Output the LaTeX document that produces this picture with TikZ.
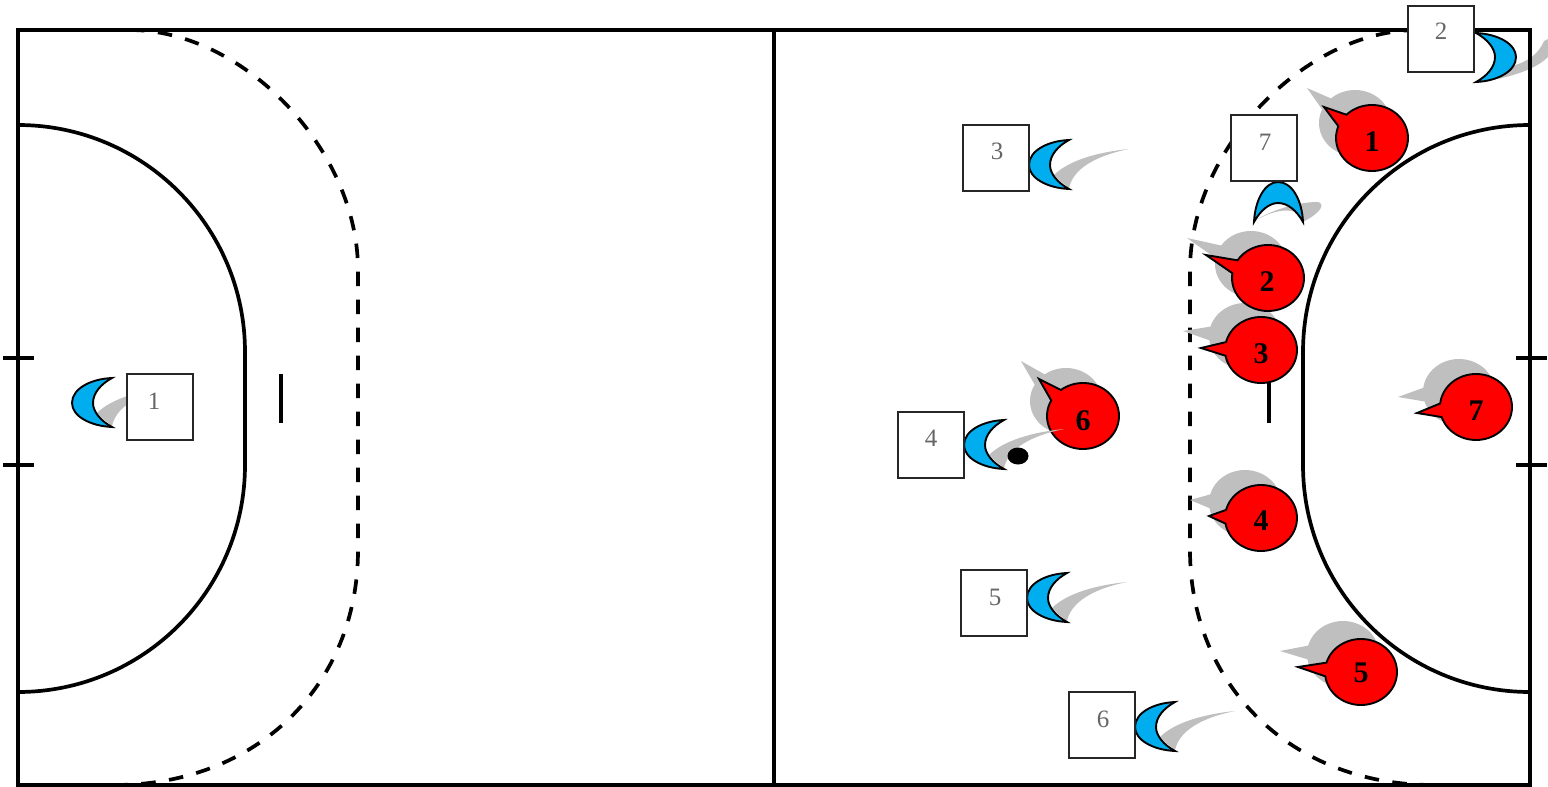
\documentclass[tikz,border=0pt]{standalone}
\usepackage{fontspec}
\setmainfont{Liberation Serif}
\definecolor{tokred}{HTML}{FF0000}
\definecolor{tokblue}{HTML}{00AEEF}
\definecolor{shadegrey}{HTML}{BFBFBF}
\definecolor{digitgrey}{HTML}{666666}
\tikzset{
  courtline/.style={draw=black,line width=4pt},
  goalline/.style={draw=black,line width=3.7pt},
  freeline/.style={draw=black,line width=3.7pt,dash pattern=on 14.5pt off 13.5pt},
  markline/.style={draw=black,line width=3.4pt},
  boxst/.style={draw=black!85,fill=white,line width=2pt,minimum size=66pt,inner sep=0pt},
  digitst/.style={text=digitgrey,inner sep=0pt,font=\fontsize{25}{25}\selectfont},
  redlabel/.style={text=black,inner sep=0pt,font=\bfseries\fontsize{30}{30}\selectfont},
  crescentst/.style={draw=black,fill=tokblue,line width=1.9pt,line join=miter},
  redbody/.style={draw=black,fill=tokred,line width=1.9pt,line join=miter},
}
\newcommand{\tokshape}[6]{% options, cx, cy, tipx, tipy
  \pgfmathsetmacro{\tokang}{atan2(#5-#3,#4-#2)}
  \path[#1] plot[domain=\tokang+12:\tokang+348,samples=70] ({#2+36*cos(\x)},{#3+33*sin(\x)}) -- (#4,#5) -- cycle;
}
\newcommand{\swoosh}[3]{% x, y, rotation
  \begin{scope}[shift={(#1,#2)},rotate=#3]
    \fill[shadegrey] (25,10) .. controls (40,-5) and (70,-13) .. (100,-16)
      .. controls (75,-11) and (45,0) .. (40,23) -- (30,15) -- cycle;
  \end{scope}
}
\newcommand{\crescent}[3]{% x, y, rotation
  \begin{scope}[shift={(#1,#2)},rotate=#3]
    \path[crescentst] (40,-25) .. controls (18,-24) and (0,-14) .. (0,0)
      .. controls (0,13) and (18,23) .. (40,24)
      .. controls (29,18) and (21,9) .. (21,0)
      .. controls (21,-10) and (29,-19) .. (40,-25) -- cycle;
  \end{scope}
}
\begin{document}
\begin{tikzpicture}[x=1pt,y=-1pt]
\useasboundingbox (0,0) rectangle (1548,787);
\clip (0,0) rectangle (1548,787);
% swoosh of player 2 lies under the court lines
\fill[shadegrey] (1512,66) .. controls (1527,62) and (1538,55) .. (1544,41) -- (1548,39) -- (1548,57)
  .. controls (1538,67) and (1520,74) .. (1498,79) -- cycle;
% court
\path[courtline] (18,30) rectangle (1530,785);
\path[courtline] (774,30) -- (774,785);
% goal areas
\path[goalline] (18,125) .. controls (143.4,125) and (245,226.6) .. (245,352) -- (245,465)
  .. controls (245,590.4) and (143.4,692) .. (18,692);
\path[goalline] (1530,125) .. controls (1404.6,125) and (1303,226.6) .. (1303,352) -- (1303,465)
  .. controls (1303,590.4) and (1404.6,692) .. (1530,692);
% free-throw lines
\path[freeline] (130,30) .. controls (244,30) and (358,150) .. (358,270) -- (358,550)
  .. controls (358,686) and (256,785) .. (115,785);
\path[freeline] (1418,30) .. controls (1304,30) and (1190,150) .. (1190,270) -- (1190,550)
  .. controls (1190,686) and (1292,785) .. (1433,785);
% marks
\path[markline] (3,358) -- (34,358);
\path[markline] (3,465) -- (34,465);
\path[markline] (1516,358) -- (1547,358);
\path[markline] (1516,465) -- (1547,465);
\path[markline] (281,374) -- (281,423);
\path[markline] (1269,375) -- (1269,423);
% shadows
\tokshape{fill=shadegrey}{1355}{123}{1307}{88}{}
\tokshape{fill=shadegrey}{1251}{264}{1187}{238}{}
\tokshape{fill=shadegrey}{1245}{336}{1183}{331}{}
\tokshape{fill=shadegrey}{1245}{503}{1190}{500}{}
\tokshape{fill=shadegrey}{1343}{654}{1280}{651}{}
\tokshape{fill=shadegrey}{1066}{401}{1021}{361}{}
\tokshape{fill=shadegrey}{1459}{392}{1398}{397}{}
% red players
\tokshape{redbody}{1372}{138}{1324}{107}{}
\tokshape{redbody}{1268}{278}{1206}{255}{}
\tokshape{redbody}{1261}{350}{1201}{348}{}
\tokshape{redbody}{1261}{518}{1209}{516}{}
\tokshape{redbody}{1361}{672}{1298}{667}{}
\tokshape{redbody}{1083}{416}{1039}{379}{}
\tokshape{redbody}{1476}{407}{1417}{413}{}
\node[redlabel] (r1) at (1372,142) {1};
\node[redlabel] (r2) at (1267,282) {2};
\node[redlabel] (r3) at (1261,354) {3};
\node[redlabel] (r4) at (1261,521) {4};
\node[redlabel] (r5) at (1361,673) {5};
\node[redlabel] (r6) at (1083,421) {6};
\node[redlabel] (r7) at (1476,411) {7};
% swooshes
\swoosh{72}{403}{0}
\swoosh{1029}{165}{0}
\swoosh{964}{445}{0}
\swoosh{1027}{598}{0}
\swoosh{1135}{727}{0}
\fill[shadegrey] (1252,222) .. controls (1275,208) and (1300,202) .. (1318,202)
  .. controls (1325,204) and (1322,212) .. (1303,222) -- (1295,212) .. controls (1285,208) and (1270,212) .. (1252,222) -- cycle;
% puck
\fill[black] (1018,456) ellipse [x radius=10.5,y radius=8.5];
% crescents
\crescent{72}{403}{0}
\crescent{1029}{165}{0}
\crescent{964}{445}{0}
\crescent{1027}{598}{0}
\crescent{1135}{727}{0}
\crescent{1516}{57}{180}
\crescent{1278}{182}{-90}
% boxes
\node[boxst] (b1) at (160,407) {};
\node[boxst] (b2) at (1441,38.5) {};
\node[boxst] (b3) at (996,157.5) {};
\node[boxst] (b4) at (931,445) {};
\node[boxst] (b5) at (994,603) {};
\node[boxst] (b6) at (1102,725) {};
\node[boxst] (b7) at (1264,148) {};
\node[digitst] (d1) at (154,401) {1};
\node[digitst] (d2) at (1441,31) {2};
\node[digitst] (d3) at (997,151) {3};
\node[digitst] (d4) at (931,438) {4};
\node[digitst] (d5) at (995,597) {5};
\node[digitst] (d6) at (1103,719) {6};
\node[digitst] (d7) at (1265,142) {7};
\end{tikzpicture}
\end{document}
